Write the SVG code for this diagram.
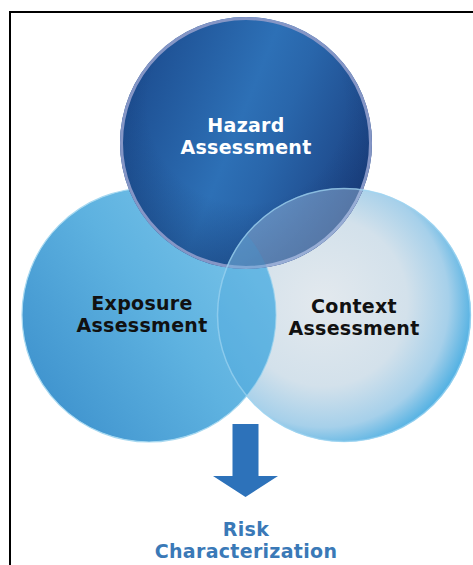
<svg xmlns="http://www.w3.org/2000/svg" width="473" height="565" viewBox="0 0 473 565">
  <defs>
    <linearGradient id="gHaz" x1="0" y1="0.3" x2="1" y2="0.7">
      <stop offset="0" stop-color="#1c4c8f"/>
      <stop offset="0.45" stop-color="#2d70b6"/>
      <stop offset="0.6" stop-color="#2966ab"/>
      <stop offset="1" stop-color="#1a3e7e"/>
    </linearGradient>
    <radialGradient id="gHazV" cx="0.5" cy="0.35" r="0.65">
      <stop offset="0.6" stop-color="#0d2a5c" stop-opacity="0"/>
      <stop offset="1" stop-color="#0d2a5c" stop-opacity="0.35"/>
    </radialGradient>
    <linearGradient id="gExp" x1="0" y1="0.9" x2="1" y2="0.2">
      <stop offset="0" stop-color="#3a8ecb"/>
      <stop offset="0.55" stop-color="#5eb2e0"/>
      <stop offset="1" stop-color="#7cc6ea"/>
    </linearGradient>
    <radialGradient id="gCtx" cx="0.42" cy="0.45" r="0.6">
      <stop offset="0" stop-color="#e3e9ee"/>
      <stop offset="0.55" stop-color="#d3e1eb"/>
      <stop offset="0.82" stop-color="#a6d0ea"/>
      <stop offset="1" stop-color="#4aaee2"/>
    </radialGradient>
    <clipPath id="clipHaz"><circle cx="246" cy="143" r="126"/></clipPath>
    <clipPath id="clipExp"><circle cx="149" cy="315" r="127"/></clipPath>
  </defs>
  <style>
    .lbl { font-family: "DejaVu Sans", "Liberation Sans", sans-serif; font-weight: bold; font-size: 19px; letter-spacing: 0.3px; text-anchor: middle; }
    .dark { fill: #111111; }
    .white { fill: #ffffff; }
    .risk { fill: #3a79b7; }
  </style>
  <rect width="473" height="565" fill="#ffffff"/>
  <path d="M10,565 V12 H473" fill="none" stroke="#000000" stroke-width="2"/>

  <g id="context-circle">
    <circle cx="344" cy="315" r="127" fill="url(#gCtx)"/>
  </g>
  <g id="exposure">
    <circle cx="149" cy="315" r="127" fill="url(#gExp)" stroke="#a6d8f0" stroke-width="1.2"/>
    <text class="lbl dark" x="142" y="310">Exposure</text>
    <text class="lbl dark" x="142" y="332">Assessment</text>
  </g>
  <g id="hazard">
    <circle cx="246" cy="143" r="126" fill="url(#gHaz)"/>
    <circle cx="246" cy="143" r="126" fill="url(#gHazV)"/>
    <circle cx="246" cy="143" r="124.5" fill="none" stroke="#8596c6" stroke-width="3"/>
    <text class="lbl white" x="246" y="132">Hazard</text>
    <text class="lbl white" x="246" y="154">Assessment</text>
  </g>
  <g id="context">
    <circle cx="344" cy="315" r="127" fill="#b4d0ea" fill-opacity="0.4" clip-path="url(#clipHaz)"/>
    <circle cx="344" cy="315" r="127" fill="#3d9cd8" fill-opacity="0.25" clip-path="url(#clipExp)"/>
    <circle cx="344" cy="315" r="126.5" fill="none" stroke="#9fd6f2" stroke-opacity="0.7" stroke-width="1.5"/>
    <text class="lbl dark" x="354" y="313">Context</text>
    <text class="lbl dark" x="354" y="335">Assessment</text>
  </g>
  <g id="connectors">
    <polygon points="232.5,424 258.5,424 258.5,476 278,476 245.5,497 213,476 232.5,476" fill="#2d72ba"/>
  </g>
  <g id="risk">
    <text class="lbl risk" x="246" y="536">Risk</text>
    <text class="lbl risk" x="246" y="558">Characterization</text>
  </g>
</svg>
